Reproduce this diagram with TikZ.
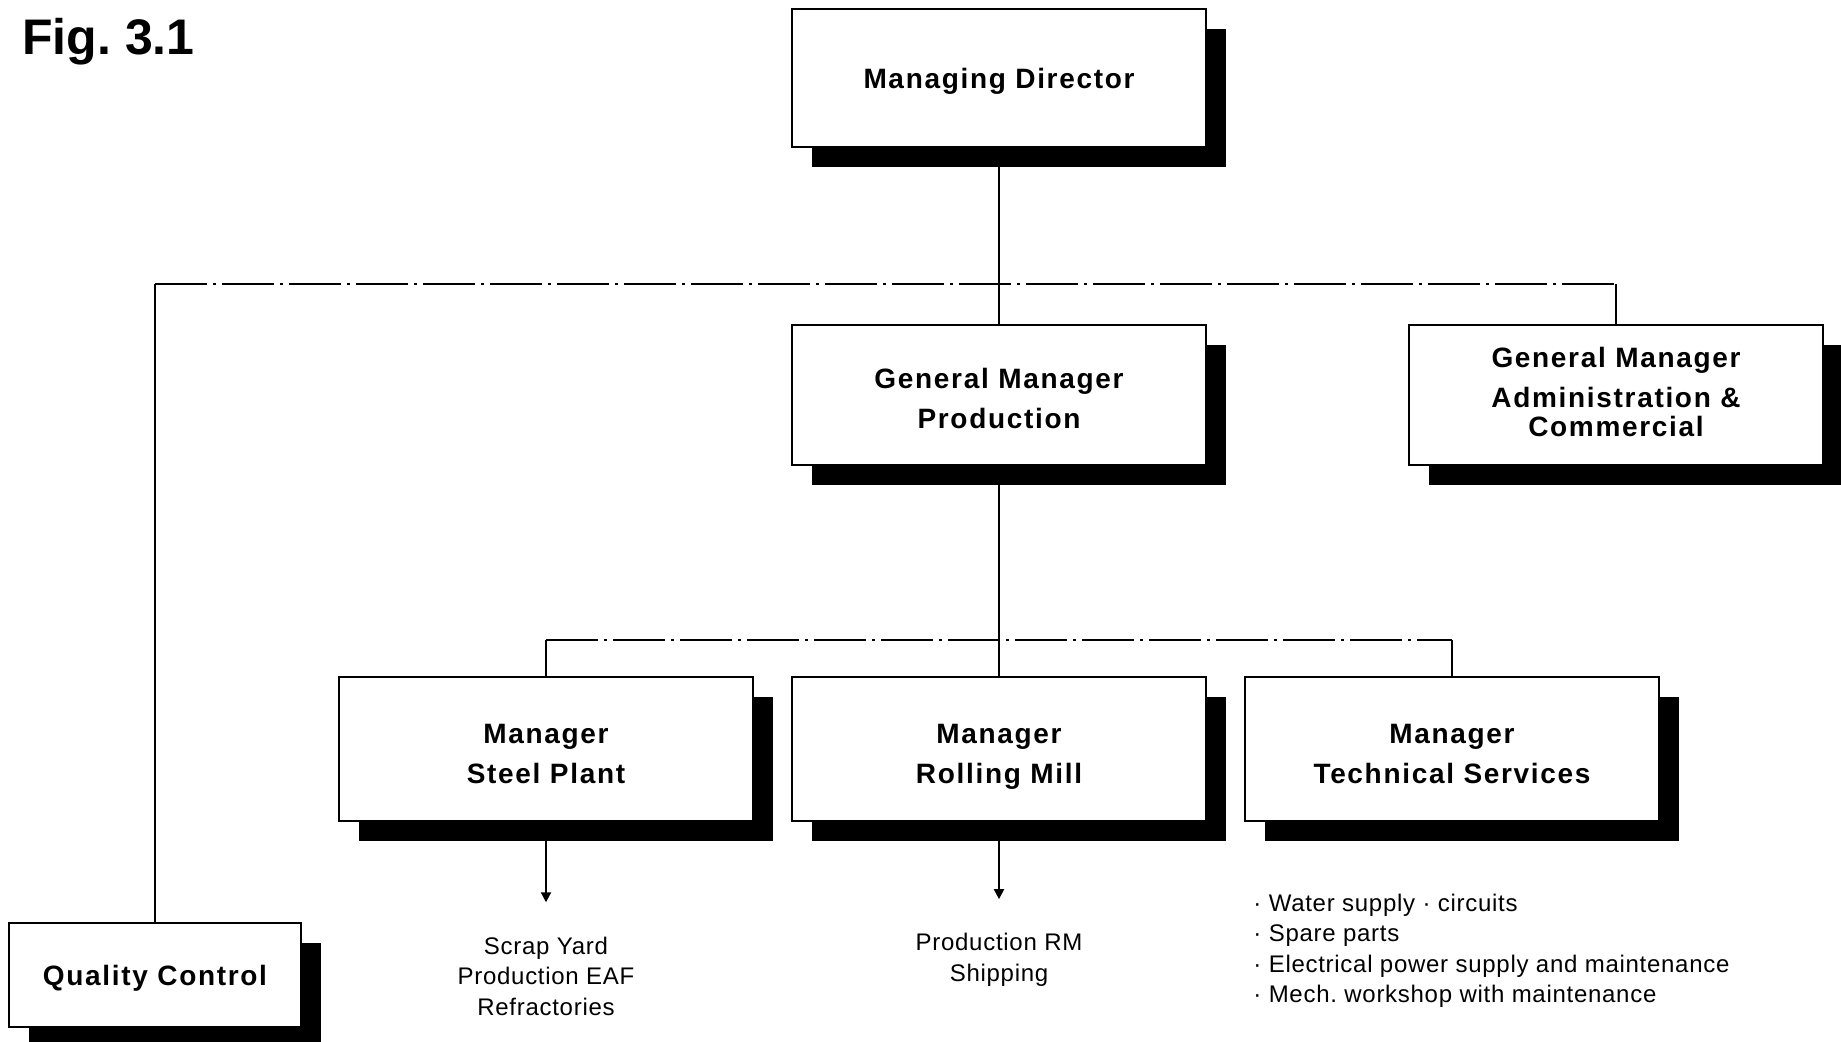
\documentclass[tikz,border=0pt]{standalone}
\usepackage{fontspec}
\setmainfont{Liberation Sans}
\newfontfamily\boxfont{Liberation Sans}[LetterSpace=6]
\newfontfamily\notefont{Liberation Sans}[LetterSpace=3]
\usetikzlibrary{arrows.meta}
\usetikzlibrary{shadows}

\tikzset{
    post/.style={draw, line width=1.2pt, fill=white, align=center,
        minimum width=207pt, minimum height=70pt, text depth=0pt,
        font={\boxfont\bfseries\fontsize{14}{20}\selectfont},
        general shadow={fill=black, shadow xshift=10pt, shadow yshift=-10pt}},
    twoline/.style={text height=34pt},
    link/.style={line width=1pt},
    bus/.style={line width=1pt, dash pattern=on 26pt off 3pt on 1.5pt off 3pt},
    note/.style={align=center, inner sep=0pt,
        font={\notefont\fontsize{12}{15.25}\selectfont}},
}

\begin{document}
\begin{tikzpicture}[x=0.5pt, y=-0.5pt]
    \useasboundingbox (0,0) rectangle (1841,1042);
    \node[anchor=base west, inner sep=0pt, font={\bfseries\fontsize{25}{30}\selectfont}] (fig) at (22,55) {Fig.\ 3.1};

    \begin{scope}[every node/.style={post}]
        \node[minimum height=69pt] (md) at (999,78) {Managing Director};
        \node[twoline] (gmp) at (999,395) {General Manager\\Production};
        \node[text depth=3pt] (gma) at (1616,395) {General Manager\\Administration \&\\[-5.5pt]Commercial};
        \node[twoline, minimum height=72pt] (msp) at (546,749) {Manager\\Steel Plant};
        \node[twoline, minimum height=72pt] (mrm) at (999,749) {Manager\\Rolling Mill};
        \node[twoline, minimum height=72pt] (mts) at (1452,749) {Manager\\Technical Services};
        \node[minimum width=146pt, minimum height=52pt] (qc) at (155,975) {Quality Control};
    \end{scope}

    \node[note] (sy) at (546,976) {Scrap Yard\\Production EAF\\Refractories};
    \node[note] (rm) at (999,960) {Production RM\\Shipping};
    \node[note, align=left, anchor=west] (ts) at (1253,951) {· Water supply · circuits\\· Spare parts\\· Electrical power supply and maintenance\\· Mech.\ workshop with maintenance};

    \coordinate (top) at (0,284);
    \coordinate (mid) at (0,640);

    \draw[link] (md) -- (gmp);
    \draw[link] (gmp) -- (mrm);
    \draw[link] (qc) -- (qc |- top);
    \draw[link] (gma) -- (gma |- top);
    \draw[bus] (qc |- top) -- (gma |- top);
    \draw[link] (msp) -- (msp |- mid);
    \draw[link] (mts) -- (mts |- mid);
    \draw[bus] (msp |- mid) -- (mts |- mid);

    \begin{scope}[>={Triangle[length=5pt,width=5pt]}]
        \draw[link, ->, shorten >=17pt] (msp) -- (sy);
        \draw[link, ->, shorten >=17pt] (mrm) -- (rm);
    \end{scope}
\end{tikzpicture}
\end{document}
